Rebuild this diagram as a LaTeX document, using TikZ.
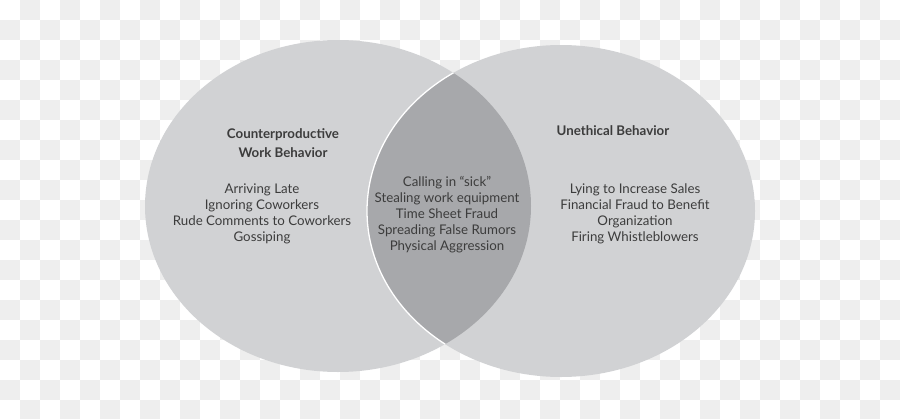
\documentclass[tikz,border=0pt]{standalone}
\usepackage{fontspec}
\setmainfont{Lato}
\usetikzlibrary{positioning}
\definecolor{bubble}{HTML}{D1D2D4}
\definecolor{overlap}{HTML}{A7A8AB}
\definecolor{checker}{HTML}{EEEEEE}
\definecolor{ink}{HTML}{3C3C3C}

\begin{document}
\begin{tikzpicture}[x=1pt, y=-1pt,
		heading/.style={text=ink, font=\fontsize{13.3}{19}\selectfont\bfseries, align=center},
		items/.style={text=ink, font=\fontsize{13.3}{16}\selectfont, align=center}
		]
		\useasboundingbox (0,0) rectangle (900,418);
		% Background squares
		\foreach \i in {0,...,44} {
			\foreach \j in {0,...,20} {
				\pgfmathtruncatemacro{\odd}{mod(\i+\j,2)}
				\ifnum\odd=1 \fill[checker] (20*\i,20*\j) rectangle ++(20,20); \fi
			}
		}
		
		% Circles
		\coordinate (cwb) at (338,206);
		\coordinate (ub) at (561,211);
		\fill[bubble] (cwb) ellipse [x radius=193, y radius=166];
		\fill[bubble] (ub) ellipse [x radius=194, y radius=166];
		\begin{scope}
			\clip (cwb) ellipse [x radius=193, y radius=166];
			\fill[overlap] (ub) ellipse [x radius=194, y radius=166];
			\draw[white, line width=1.3pt] (ub) ellipse [x radius=194, y radius=166];
		\end{scope}
		
		% Texts
		\node[heading] (cwbtitle) at (283,143.5) {Counterproductive\\Work Behavior};
		\node[items] (cwblist) at (262,213.5) {Arriving Late\\Ignoring Coworkers\\Rude Comments to Coworkers\\Gossiping};
		\node[items] (bothlist) at (447,214.5) {Calling in “sick”\\Stealing work equipment\\Time Sheet Fraud\\Spreading False Rumors\\Physical Aggression};
		\node[heading] (ubtitle) at (613,131) {Unethical Behavior};
		\node[items] (ublist) at (635,213.5) {Lying to Increase Sales\\Financial Fraud to Benefit\\Organization\\Firing Whistleblowers};
	\end{tikzpicture}
\end{document}
